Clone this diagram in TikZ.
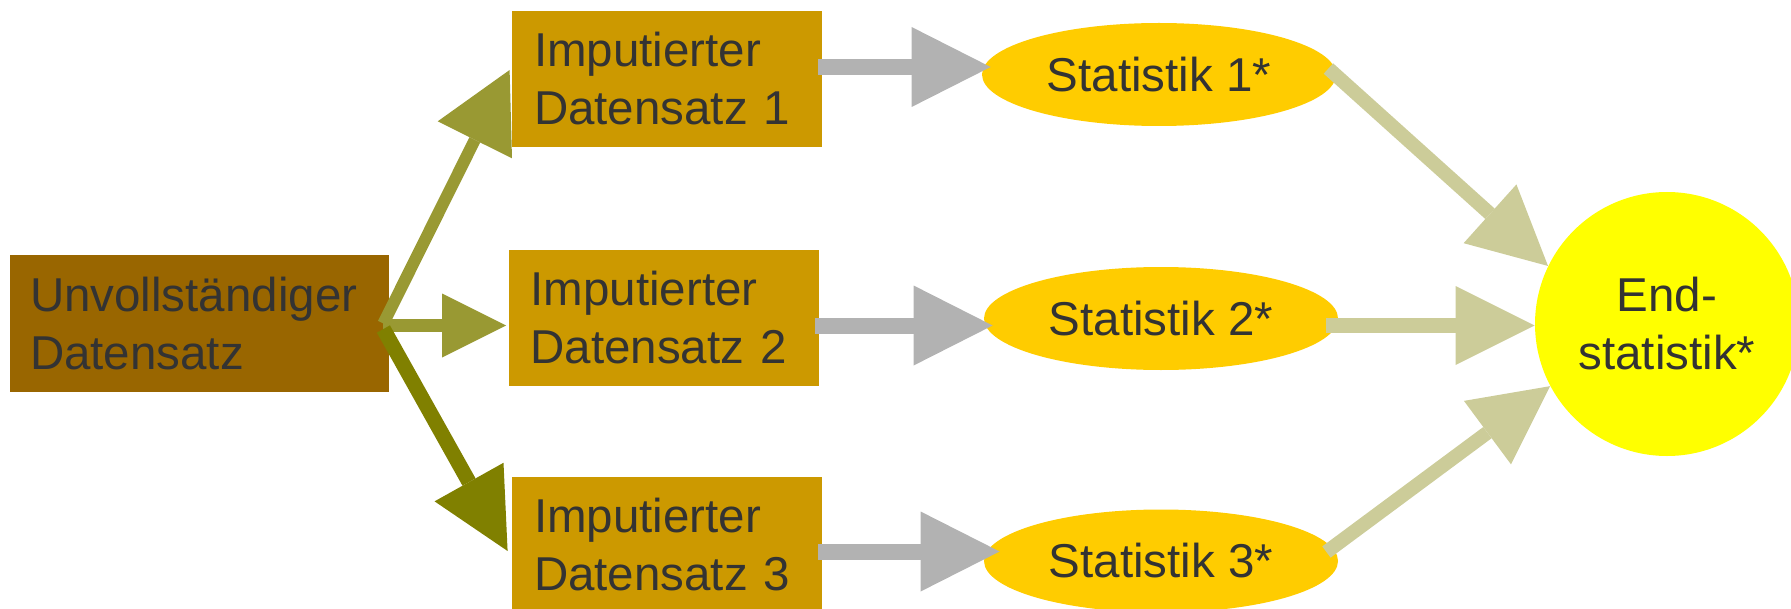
\documentclass[tikz,border=0pt]{standalone}
\usepackage{fontspec}
\setmainfont{Liberation Sans}
\usetikzlibrary{arrows.meta,shapes.geometric}
\definecolor{cU}{HTML}{996600}
\definecolor{cI}{HTML}{CC9900}
\definecolor{cS}{HTML}{FFCC00}
\definecolor{cE}{HTML}{FFFF00}
\definecolor{cA}{HTML}{999933}
\definecolor{cB}{HTML}{808000}
\definecolor{cG}{HTML}{B2B2B2}
\definecolor{cR}{HTML}{CCCC99}
\definecolor{textc}{HTML}{333333}
\begin{document}
\begin{tikzpicture}[x=0.5pt,y=-0.5pt,
  txt/.style={font=\fontsize{23.75pt}{29pt}\selectfont, text=textc},
  ubox/.style={txt, fill=cU, minimum width=189.5pt, minimum height=68.5pt, inner xsep=10pt, inner ysep=0pt, text width=169.5pt, align=left},
  ibox/.style={txt, fill=cI, minimum width=155pt, minimum height=68pt, inner xsep=11pt, inner ysep=0pt, text width=133pt, align=left},
  stat/.style={txt, ellipse, fill=cS, inner sep=0pt, minimum width=177pt, minimum height=51.5pt},
  endc/.style={txt, circle, fill=cE, inner sep=0pt, minimum size=132pt, align=center},
  blk/.style n args={4}{draw=#1, line width=#2, -{Triangle[length=#3, width=#4, line width=0pt]}}
]
\useasboundingbox (0,0) rectangle (1791,609);

\node[ubox] (U) at (199.5,323.5) {Unvollständiger\\Datensatz};
\node[ibox] (I1) at (667,79) {Imputierter\\Datensatz 1};
\node[ibox] (I2) at (663.5,318) {Imputierter\\Datensatz 2};
\node[ibox] (I3) at (667,545) {Imputierter\\Datensatz 3};
\node[stat] (S1) at (1159,74.5) {Statistik 1*};
\node[stat] (S2) at (1161,318.5) {Statistik 2*};
\node[stat] (S3) at (1161,561) {Statistik 3*};
\node[endc] (E) at (1667,324) {End-\\statistik*};

% from incomplete data set
\draw[blk={cA}{6pt}{39pt}{41.5pt}] ([xshift=-3pt]U.east) -- ([xshift=-1pt,yshift=4.5pt]I1.west);
\draw[blk={cA}{6.5pt}{32pt}{32pt}] ([xshift=-3pt,yshift=-1pt]U.east) -- ([xshift=-1pt,yshift=-3.75pt]I2.west);
\draw[blk={cB}{7.5pt}{39.5pt}{39.5pt}] ([xshift=-3pt,yshift=-2.75pt]U.east) -- ([xshift=-2pt,yshift=-3pt]I3.west);

% imputed -> statistics
\draw[blk={cG}{8pt}{39.5pt}{40pt}] ([xshift=-2pt,yshift=6pt]I1.east) -- ([xshift=4.5pt,yshift=3.75pt]S1.west);
\draw[blk={cG}{8pt}{39.5pt}{40pt}] ([xshift=-2pt,yshift=-3.75pt]I2.east) -- ([xshift=4.5pt,yshift=-3.5pt]S2.west);
\draw[blk={cG}{8pt}{39.5pt}{40pt}] ([xshift=-2pt,yshift=-3.25pt]I3.east) -- ([xshift=8pt,yshift=4.75pt]S3.west);

% statistics -> end statistic
\draw[blk={cR}{7pt}{39pt}{39.5pt}] ([xshift=-4pt,yshift=3pt]S1.east) -- (E.154);
\draw[blk={cR}{7.5pt}{39.5pt}{39.5pt}] ([xshift=-6pt,yshift=-3.5pt]S2.east) -- ([yshift=-0.75pt]E.west);
\draw[blk={cR}{7pt}{39pt}{39.5pt}] ([xshift=-6pt,yshift=4.5pt]S3.east) -- (E.208);
\end{tikzpicture}
\end{document}
